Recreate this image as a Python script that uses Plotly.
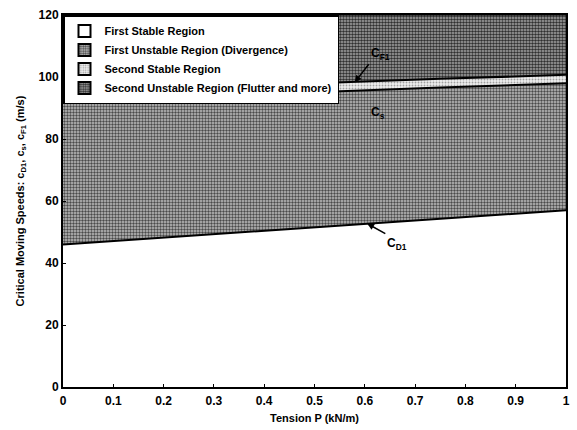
import plotly.graph_objects as go

# Data
tension = [0.0, 0.25, 0.5, 0.75, 1.0]
c_D1 = [46.0, 48.8, 51.6, 54.3, 57.0]
c_s = [92.0, 93.6, 95.2, 96.6, 98.0]
c_F1 = [95.0, 96.5, 98.0, 99.4, 100.7]
y_top = [120.0, 120.0, 120.0, 120.0, 120.0]

x_ticks = [0, 0.1, 0.2, 0.3, 0.4, 0.5, 0.6, 0.7, 0.8, 0.9, 1]
x_ticktext = ["0", "0.1", "0.2", "0.3", "0.4", "0.5", "0.6", "0.7", "0.8", "0.9", "1"]
y_ticks = [0, 20, 40, 60, 80, 100, 120]

names = ["First Stable Region", "First Unstable Region (Divergence)",
         "Second Stable Region", "Second Unstable Region (Flutter and more)"]

FONT = "Liberation Sans, Arial, sans-serif"

pat_unstable1 = dict(shape=".", size=3, solidity=0.5, fgcolor="#4a4a4a", bgcolor="#c0c0c0", fillmode="replace")
pat_stable2 = dict(shape=".", size=3, solidity=0.3, fgcolor="#a0a0a0", bgcolor="#eeeeee", fillmode="replace")
pat_unstable2 = dict(shape=".", size=3, solidity=0.55, fgcolor="#303030", bgcolor="#a8a8a8", fillmode="replace")

fig = go.Figure()
fig.add_trace(go.Scatter(
    x=tension, y=c_D1, mode="lines", showlegend=False,
    line=dict(color="black", width=2), fill="tozeroy", fillcolor="white"))
fig.add_trace(go.Scatter(
    x=tension, y=c_s, mode="lines", showlegend=False,
    line=dict(color="black", width=2), fill="tonexty", fillcolor="#a8a8a8",
    fillpattern=pat_unstable1))
fig.add_trace(go.Scatter(
    x=tension, y=c_F1, mode="lines", showlegend=False,
    line=dict(color="black", width=2), fill="tonexty", fillcolor="#e2e2e2",
    fillpattern=pat_stable2))
fig.add_trace(go.Scatter(
    x=tension, y=y_top, mode="lines", showlegend=False,
    line=dict(color="black", width=1), fill="tonexty", fillcolor="#909090",
    fillpattern=pat_unstable2))

# legend swatches
swatches = [dict(color="white"),
            dict(color="#a8a8a8", pattern=pat_unstable1),
            dict(color="#e2e2e2", pattern=pat_stable2),
            dict(color="#909090", pattern=pat_unstable2)]
for nm, sw in zip(names, swatches):
    sw = dict(sw)
    sw["line"] = dict(color="black", width=1.5)
    fig.add_trace(go.Bar(x=[None], y=[None], name=nm, marker=sw, showlegend=True))

ann_font = dict(family=FONT, size=12, color="black", weight="bold")
arrow_style = dict(showarrow=True, arrowhead=2, arrowsize=0.9, arrowwidth=1.5,
                   arrowcolor="black", xanchor="left", font=ann_font)
fig.add_annotation(x=0.58, y=98.3, text="C<sub>F1</sub>", ax=14, ay=-18,
                   yanchor="bottom", **arrow_style)
fig.add_annotation(x=0.58, y=95.5, text="C<sub>s</sub>", ax=14, ay=12,
                   yanchor="top", **arrow_style)
fig.add_annotation(x=0.605, y=52.7, text="C<sub>D1</sub>", ax=18, ay=10,
                   yanchor="top", **arrow_style)

tick_font = dict(family=FONT, size=12, color="black", weight="bold")
axis_common = dict(showline=True, linecolor="black", linewidth=2, mirror=True,
                   showgrid=False, zeroline=False, ticks="inside", ticklen=3,
                   tickcolor="black", tickfont=tick_font)

fig.update_xaxes(range=[0, 1], tickvals=x_ticks, ticktext=x_ticktext, ticklabelstandoff=2,
                 title=dict(text="Tension P (kN/m)",
                            font=dict(family=FONT, size=11, color="black", weight="bold"), standoff=7),
                 **axis_common)
fig.update_yaxes(range=[0, 120], tickvals=y_ticks,
                 title=dict(text="Critical Moving Speeds: c<sub>D1</sub>, c<sub>s</sub>, c<sub>F1</sub> (m/s)",
                            font=dict(family=FONT, size=11, color="black", weight="bold"), standoff=12),
                 **axis_common)

fig.update_layout(
    width=577, height=430,
    margin=dict(l=63, r=7, t=15, b=43),
    plot_bgcolor="white", paper_bgcolor="white",
    font=dict(family=FONT, size=11, color="black"),
    legend=dict(x=0.0, y=1.0, xanchor="left", yanchor="top", traceorder="normal",
                bgcolor="white", bordercolor="black", borderwidth=1.5,
                font=dict(family=FONT, size=11, color="black", weight="bold"),
                tracegroupgap=0, itemwidth=30, itemsizing="constant"),
    showlegend=True,
)

fig.write_html("out.html", config={"displayModeBar": False},
               post_script="document.body.style.margin='0px';document.body.style.overflow='hidden';")
